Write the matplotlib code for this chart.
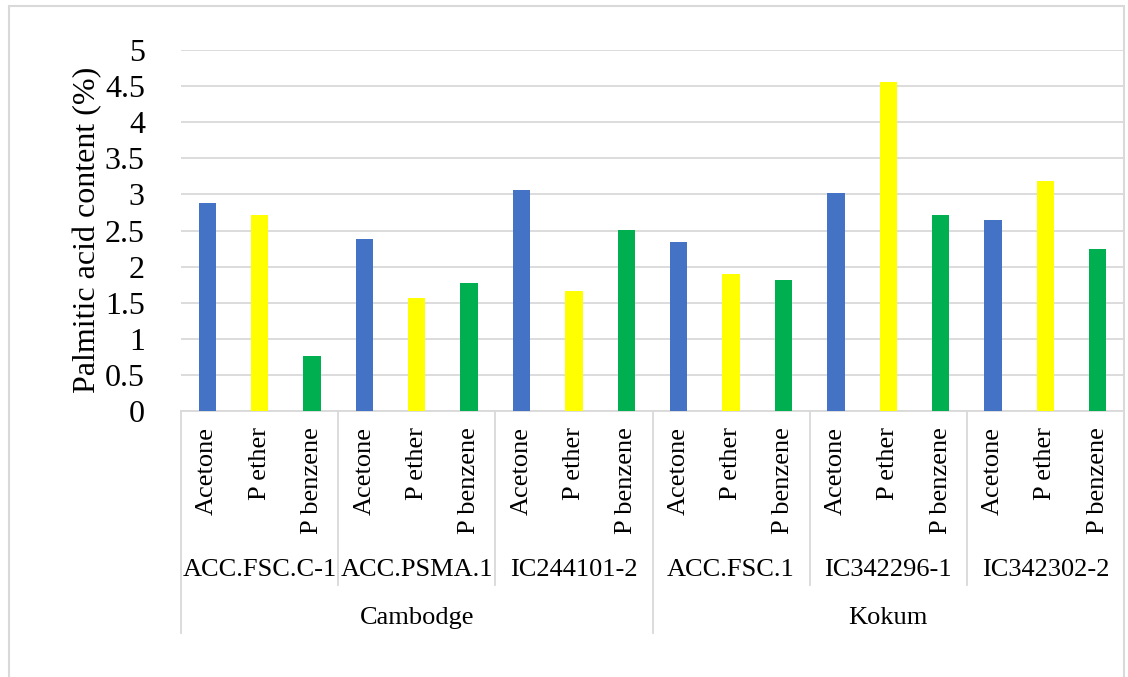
import matplotlib
matplotlib.use("Agg")
import matplotlib.pyplot as plt
import matplotlib.transforms as mtransforms
from matplotlib.lines import Line2D
from matplotlib.patches import Rectangle

# Data
regions = ["Cambodge", "Kokum"]
accessions = ["ACC.FSC.C-1", "ACC.PSMA.1", "IC244101-2",
              "ACC.FSC.1", "IC342296-1", "IC342302-2"]
accession_region = [0, 0, 0, 1, 1, 1]
solvents = ["Acetone", "P ether", "P benzene"]
acetone = [2.88, 2.38, 3.06, 2.34, 3.02, 2.65]
p_ether = [2.71, 1.57, 1.66, 1.90, 4.56, 3.19]
p_benzene = [0.76, 1.77, 2.51, 1.81, 2.71, 2.24]
y_ticks = [0, 0.5, 1, 1.5, 2, 2.5, 3, 3.5, 4, 4.5, 5]
y_label = "Palmitic acid content (%)"

colors = ["#4472C4", "#FFFF00", "#00B050"]
grid_color = "#D9D9D9"
font = "Liberation Serif"

W, H = 1128, 677
fig = plt.figure(figsize=(W / 100, H / 100), dpi=100)

def fx(px):
    return px / W

def fy(py):
    return 1 - py / H

x0, x1, ytop, ybot = 181, 1124, 50, 411
ax = fig.add_axes([fx(x0), fy(ybot), fx(x1) - fx(x0), fy(ytop) - fy(ybot)])

# One bar per (accession, solvent) slot
series = [acetone, p_ether, p_benzene]
n_acc = len(accessions)
n_sol = len(solvents)
values, bar_colors, positions, tick_text = [], [], [], []
for i in range(n_acc):
    for j in range(n_sol):
        positions.append(i * n_sol + j)
        values.append(series[j][i])
        bar_colors.append(colors[j])
        tick_text.append(solvents[j])

ax.bar(positions, values, width=0.33, color=bar_colors, zorder=3)
ax.set_xlim(-0.5, n_acc * n_sol - 0.5)
ax.set_ylim(0, 5)
ax.set_yticks(y_ticks)
ax.set_yticklabels([f"{t:g}" for t in y_ticks], fontsize=23, family=font)
ax.tick_params(axis="y", length=0, pad=26)
ax.tick_params(axis="x", length=0, labelbottom=False)
ax.yaxis.grid(True, color=grid_color, linewidth=1.3, zorder=0)
ax.set_axisbelow(True)
for s in ["top", "right", "left"]:
    ax.spines[s].set_visible(False)
ax.spines["bottom"].set_color(grid_color)
ax.spines["bottom"].set_linewidth(1.3)

fig.text(fx(88), fy(230), y_label, rotation=90, ha="center", va="center",
         fontsize=23, family=font)

# Multi-level category axis
trans = mtransforms.blended_transform_factory(ax.transData, fig.transFigure)
for p, t in zip(positions, tick_text):
    ax.text(p, fy(427), t, rotation=90, ha="center", va="top",
            fontsize=19, family=font, transform=trans, clip_on=False)

for i, name in enumerate(accessions):
    ax.text(i * n_sol + 1, fy(570), name, ha="center", va="center",
            fontsize=19, family=font, transform=trans, clip_on=False)

for r, name in enumerate(regions):
    idx = [i for i, a in enumerate(accession_region) if a == r]
    centre = (min(idx) * n_sol + (max(idx) + 1) * n_sol - 1) / 2
    ax.text(centre, fy(618), name, ha="center", va="center",
            fontsize=19, family=font, transform=trans, clip_on=False)

# Separators between accessions and between regions
for i in range(n_acc + 1):
    xb = i * n_sol - 0.5
    is_region_edge = (i == 0 or i == n_acc or
                      accession_region[i - 1] != accession_region[i])
    bottom_px = 633 if is_region_edge else 585
    fig.add_artist(Line2D([xb, xb], [fy(ybot), fy(bottom_px)], transform=trans,
                          color=grid_color, linewidth=1.3))

# Chart border
fig.add_artist(Rectangle((fx(9), fy(H + 10)), fx(1124) - fx(9), fy(5.5) - fy(H + 10),
                         transform=fig.transFigure, fill=False,
                         edgecolor=grid_color, linewidth=1.5))

fig.savefig("out.png", dpi=100, facecolor="white")
